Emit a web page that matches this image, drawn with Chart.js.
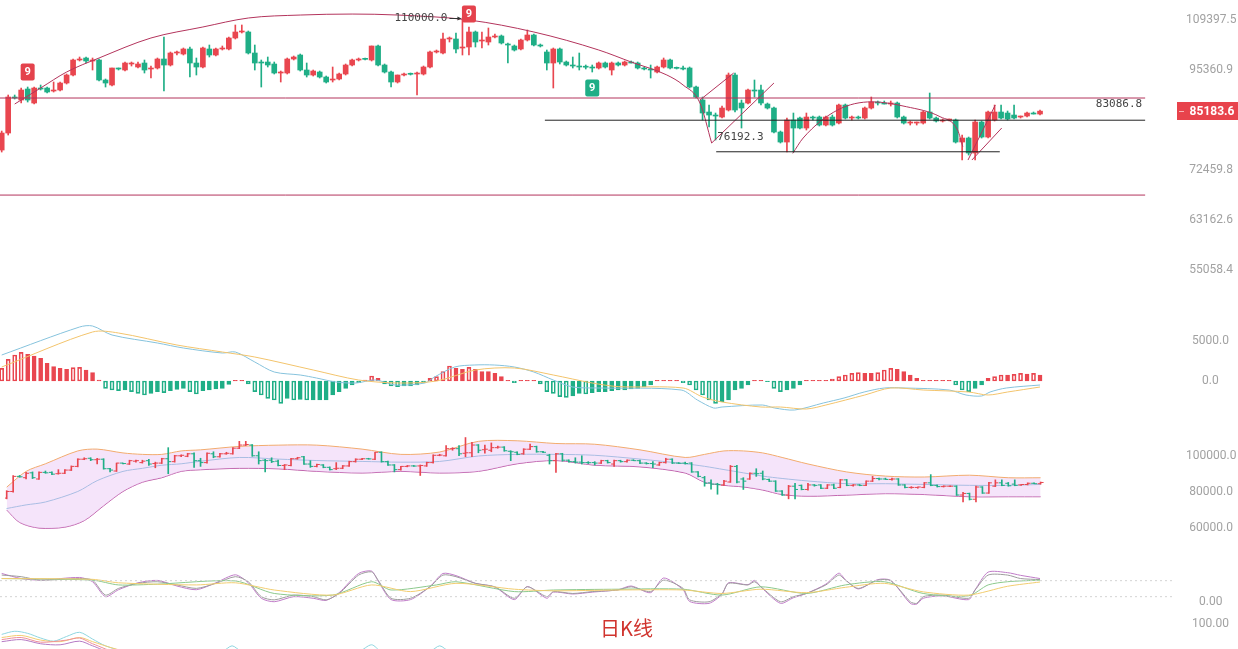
<!DOCTYPE html>
<html><head><meta charset="utf-8">
<script src="https://cdn.jsdelivr.net/npm/chart.js@4.4.1/dist/chart.umd.min.js"></script>
<style>
html,body{margin:0;padding:0;background:#fff;width:1238px;height:649px;overflow:hidden;position:relative;}
canvas{position:absolute;left:0;}
#title{position:absolute;left:600px;top:617px;font-family:"Noto Sans CJK SC";font-size:20px;line-height:22px;color:#d0342e;}
</style></head><body>
<canvas id="c1" width="1238" height="300" style="top:0px"></canvas>
<canvas id="c2" width="1238" height="120" style="top:300px"></canvas>
<canvas id="c3" width="1238" height="140" style="top:420px"></canvas>
<canvas id="c4" width="1238" height="50" style="top:560px"></canvas>
<canvas id="c5" width="1238" height="39" style="top:610px"></canvas>
<div id="title">日K线</div>
<script>
// ---------------- DATA ----------------
const candleOpen = [76557,80215,88550,87824,90517,87103,90766,90766,90021,90269,
 92021,94064,98020,98559,97751,98020,92782,91517,95890,95365,
 96949,96154,97215,95627,95890,98289,96683,99922,99648,101026,
 97215,96154,101026,99375,101026,101026,104124,105853,105853,99922,
 97483,97483,96949,94582,94582,98289,99375,95365,94064,94842,
 93549,92782,93037,94323,96683,98020,98289,98020,101861,96683,
 94842,92274,94064,94323,94323,94323,96154,100197,99922,103838,
 103838,101303,101582,105853,103269,102986,104410,104697,102422,101861,
 101026,103553,104985,102141,100197,97215,101026,97483,96683,96418,
 96154,96154,95890,97215,95365,97215,96683,97483,97215,95890,
 95627,94842,96154,98020,95890,95890,95890,91015,87824,84977,
 84279,83818,85445,94064,87103,87103,90269,90269,86864,85915,
 80436,78257,83130,83588,81324,83818,83818,81997,83818,82448,
 86626,83588,83818,83588,85915,87343,87103,86864,87103,83818,
 82448,82448,82448,84977,83588,82902,83130,83130,78257,79122,
 75929,82675,79339,83130,84977,84744,84279,83818,84048,84744,
 84511];
const candleHigh = [80657,89038,89038,90766,91015,91015,91517,91015,92274,92274,
 94323,98289,98830,98830,98559,98289,93037,95890,95890,97483,
 97483,97483,98020,96418,98559,104410,100197,100472,101303,101582,
 98559,101582,102141,101303,101861,104410,107907,107907,106144,102141,
 98020,98830,97483,95103,98559,99102,99648,97215,95365,95103,
 93806,96154,94582,96949,98289,98559,98559,101861,102141,96949,
 95103,94064,94582,94582,94842,96418,100472,100749,105563,104410,
 105563,110000,107316,106144,105853,107022,105273,104985,102704,102141,
 103838,106436,105273,102422,100749,101303,101303,97751,98830,99922,
 96683,96683,97483,97483,97483,97483,97751,97751,97483,96154,
 96683,96418,98559,98289,96154,96418,96154,91266,88550,86626,
 84744,86389,94582,94582,87824,90517,92782,91517,87103,86152,
 80657,83588,84744,83818,84744,84048,84048,84048,84279,86864,
 86864,84048,84048,86152,88550,87583,87583,87583,87343,84048,
 82902,82675,85210,89528,83818,83359,83359,83359,79776,79339,
 83130,82902,85210,86626,86626,85210,86626,84048,84977,84977,
 85445];
const candleLow = [76138,79776,88065,87103,87343,86864,90269,89528,89774,90021,
 91768,93806,97751,97215,95365,92527,91015,91266,95365,95103,
 96418,95890,94582,93292,95627,90021,96418,99375,99375,93549,
 94064,95890,98830,99102,100749,100749,103838,105563,99648,95365,
 91015,96154,94323,92274,94323,98020,95103,93549,93806,93292,
 92021,92274,92782,94064,96418,97751,98020,97751,96418,94582,
 91015,92021,93806,94064,89038,94064,95890,99922,99648,102986,
 99922,99375,99375,101582,101303,102141,104124,102422,97215,100472,
 100749,103269,101861,101582,95365,90766,96949,96418,95890,95365,
 95627,94842,95627,95890,94064,96418,96418,97215,95627,95365,
 93292,94582,95890,95627,95627,95365,90766,88307,83130,81548,
 78688,83588,85210,84977,81324,86864,88550,86626,85680,80215,
 78043,76138,76138,81101,80879,83130,81772,81772,81772,82222,
 83359,83130,83359,83359,85680,86626,86864,86389,83588,82222,
 81997,81997,82222,83359,82675,82675,82902,78043,74484,75513,
 74484,79122,79122,82902,83359,83130,83359,83588,83818,84511,
 84279];
const candleClose = [80215,88550,88307,90269,87824,90766,90517,89774,90269,92021,
 94064,98020,98289,97751,98020,92782,92021,95890,95627,97215,
 97215,96949,95365,95890,98289,96683,99922,100197,101026,97215,
 96154,101303,99375,101026,101303,104124,105853,106144,99922,97215,
 97215,96683,94582,94842,98289,98830,95365,94064,95103,93549,
 92274,93037,94323,96683,98020,98289,98200,101861,96683,94842,
 92274,94064,94323,94250,94582,96154,100197,100300,103838,103900,
 101026,101582,105853,102986,103553,104410,104697,102704,102141,100749,
 103553,104985,102141,101861,97215,101026,97483,96683,96418,96154,
 96100,95890,97215,96154,97215,96683,97483,97215,95890,95627,
 95365,96154,98020,95890,95800,95627,91015,88550,84744,84279,
 84048,85915,94064,85445,85915,90269,90021,87103,85915,80436,
 78257,83130,81324,81324,83818,83588,81997,83818,81997,86626,
 83588,83818,83588,85915,87343,87103,86864,87103,83818,82448,
 82448,82675,84977,83588,82902,83130,83130,78257,79122,75929,
 82675,79339,84977,84977,83588,83359,83588,84048,84744,84511,
 85183.6];

const mainTicks = [109397.5, 95360.9, 72459.8, 63162.6, 55058.4];

// drawn levels / trend lines  [index, price]
const levelPrice = [88307, 83086.8, 76192.3, 67654];
const levelFrom  = [-1, 83.7, 110.1, -1];
const levelTo    = [176.2, 176.2, 153.8, 176.2];
const bigArc = [[2,86864],[6,90766],[10,94842],[15,98559],[23,104124],[31,107316],[38,110000],[46,110900],[54,111200],[61,110900],[72,109398],[82,105853],[92,100749],[97,97483],[102.5,94064],[105,91517],[107.6,87103],[109.4,78043]];
const smallArc = [[121.9,75860],[123.5,79122],[128.8,85442],[134.1,87390],[139.4,86230],[144.6,83890],[147.3,80879],[148.1,77260]];
const channelA = [[107.6,87824],[112.8,94582]];
const channelB = [[109.4,78043],[119,92021]];
const channelC = [[148.9,74484],[153.1,86626]];
const channelD = [[149.5,74484],[154.1,81324]];
const nineIdx = [4, 72, 91];
const nineVal = [94842, 111200, 90766];
const nineUp  = [true, true, false];

// MACD
const macdHist = [1580,2700,3250,3580,3330,3120,2830,2200,1790,1580,
 1460,1670,1710,1375,1040,125,-920,-1125,-1200,-1125,
 -1330,-1540,-1750,-1540,-1330,-1460,-1200,-1040,-920,-1330,
 -1625,-1200,-1125,-1000,-920,-420,80,80,-375,-1330,
 -1750,-2170,-2375,-2790,-2170,-2375,-2290,-2375,-2375,-2375,
 -2375,-1750,-1330,-920,-500,-210,125,625,330,-375,
 -625,-710,-625,-625,-500,-210,330,540,1170,1875,
 1580,1460,1710,1460,1170,1170,960,540,80,-210,
 80,80,80,-375,-1330,-1540,-1960,-2040,-1875,-1540,
 -1625,-1460,-1330,-1330,-1200,-1125,-1125,-1000,-920,-750,
 -500,80,80,80,80,-210,-500,-1125,-1750,-2375,
 -2790,-2580,-2375,-1125,-920,-500,80,80,-80,-920,
 -1330,-1125,-920,-500,80,80,80,80,250,540,
 750,960,1040,960,960,1040,1375,1580,1460,1170,
 750,330,80,80,80,80,80,-500,-1125,-1330,
 -920,-500,330,540,750,750,830,960,875,960,
 750];
const macdDif = [[0,3250],[12,6750],[14,6875],[17,5750],[24,4750],[28,4125],[34,3500],[36,3625],[39,2375],[42,1125],[46,750],[48.5,375],[51.5,-125],[54.6,-250],[57.6,125],[60.6,-500],[65.2,-250],[66.7,500],[69.8,1750],[72.8,2000],[75.9,2000],[79,1750],[82,1125],[85,125],[88,-750],[92.2,-875],[104.7,-1125],[107.2,-2375],[109.7,-3375],[111,-3250],[117.2,-3000],[119.1,-3375],[122.2,-3625],[126.6,-2750],[129.8,-2125],[132.9,-1375],[136,-875],[139.2,-875],[146,-1125],[148.6,-1750],[151,-1875],[152.3,-1375],[154.8,-875],[160,-500]];
const macdDea = [[0,1750],[14,6125],[18,6000],[27,4500],[34,3625],[39,3000],[48,1375],[55,125],[61,-250],[67,0],[73,1375],[79,1625],[85,750],[91,-250],[95,-700],[105,-875],[108,-2000],[111,-2625],[117,-3250],[120,-3250],[124,-3500],[127,-3000],[133,-1750],[137,-875],[142,-1125],[149,-1375],[152,-1750],[155,-1375],[160,-750]];
const macdTicks = [5000, 0];

// BOLL
const bollUpper = [[0,82600],[3,91300],[6,95500],[11,102600],[14,103600],[18,101500],[21,100700],[24,100700],[27,102600],[30,103200],[36,105100],[42,105800],[48,105800],[55,103600],[61,100700],[67,102000],[73,107900],[79,108200],[85,106700],[91,106300],[98,103200],[105,99000],[108,100700],[111,102600],[114,102600],[117,101500],[120,99000],[124,95400],[130,91000],[136,88700],[142,88200],[149,89200],[155,87800],[160,87800]];
const bollMid = [[0,70800],[3,72800],[6,74400],[11,80200],[14,86200],[18,91300],[21,93000],[24,94700],[27,95500],[30,96900],[36,99000],[42,98100],[48,97300],[55,96800],[61,96400],[67,96800],[73,99800],[79,100700],[85,100700],[91,100200],[98,98100],[105,95500],[108,94100],[111,92300],[114,90500],[117,88700],[120,87400],[124,86000],[130,84500],[136,84500],[142,84100],[149,83600],[155,83600],[160,84100]];
const bollLower = [[0,70000],[2,63100],[5,60000],[9,60500],[12,64100],[15,72300],[18,80200],[21,85300],[24,87800],[27,91300],[30,92200],[36,93000],[42,92700],[48,91300],[55,90400],[61,91300],[67,90400],[73,91300],[79,95500],[85,97300],[91,94700],[98,93800],[105,90400],[108,85300],[111,83600],[114,82700],[117,81000],[120,78500],[124,77600],[130,78200],[136,79000],[142,78500],[149,77300],[155,77300],[160,77300]];
const bollTicks = [100000, 80000, 60000];

// KDJ
const kdjK = [[0,101],[3,95],[6,82],[12,88],[14,82],[16,26],[18,51],[21,70],[24,76],[27,64],[30,51],[33,70],[36,95],[38,76],[40,20],[42,8],[45,26],[48,20],[50,8],[52,32],[55,101],[57,113],[58,82],[60,14],[63,14],[66,57],[68,101],[70,95],[73,70],[76,57],[79,14],[81,57],[84,20],[85,39],[88,32],[91,39],[95,45],[97,57],[100,39],[102,82],[105,51],[106,8],[109,1],[111,32],[112,70],[115,64],[116,76],[117,57],[120,1],[122,20],[124,32],[127,64],[129,101],[130,82],[132,51],[135,82],[137,80],[140,1],[141,-5],[142,20],[145,26],[149,14],[150,45],[152,101],[155,101],[157,88],[160,84]];
const kdjJ = [[0,107],[3,88],[6,82],[12,92],[14,76],[16,20],[18,46],[21,72],[24,81],[27,60],[30,46],[33,72],[36,102],[38,72],[40,14],[42,1],[45,20],[48,14],[50,6],[52,35],[55,107],[57,116],[58,79],[60,9],[63,9],[66,58],[68,107],[70,99],[73,70],[76,56],[79,9],[81,58],[84,14],[85,37],[88,30],[91,37],[95,46],[97,60],[100,35],[102,90],[105,46],[106,2],[109,-5],[111,29],[112,72],[115,65],[116,81],[117,56],[120,-5],[122,16],[124,32],[127,67],[129,108],[130,84],[132,49],[135,84],[137,81],[140,-5],[141,-8],[142,14],[145,23],[149,9],[150,46],[152,112],[155,110],[157,100],[160,88]];
const kdjD = [[0,88],[14,82],[18,64],[24,67],[36,79],[42,32],[51,26],[57,76],[60,45],[67,64],[70,76],[79,39],[85,45],[95,48],[105,48],[111,26],[117,57],[124,32],[130,64],[136,76],[142,32],[149,23],[152,64],[155,76],[160,82]];
const kdjM = [[0,88],[14,85],[18,72],[30,64],[36,72],[42,45],[51,26],[57,64],[63,39],[70,70],[79,48],[85,42],[95,45],[105,45],[111,32],[117,48],[124,35],[130,55],[136,70],[142,38],[149,26],[155,59],[160,75]];
const kdjLevels = [80, 20];
const kdjTicks = [0];

// lower indicator (mostly cut off)
const lowCyan = [[0,80],[2,86],[4,82],[6,73],[8,67],[10,76],[12,84],[14,71],[16,58],[19,48],[34,48],[35.5,58],[37,48],[55,48],[57,60],[58.5,48],[66,48],[67.5,58],[69,48],[160,45]];
const lowYellow = [[0,74],[3,78],[6,69],[9,66],[12,74],[14,66],[17,54],[20,46],[160,45]];
const lowPurple = [[0,66],[3,70],[6,62],[9,60],[12,67],[14,58],[17,46],[160,45]];
const lowPink = [[0,70],[3,74],[6,65],[10,69],[12,73],[14,62],[18,46],[160,45]];
const lowTicks = [100];

// ---------------- HELPERS ----------------
const UP = '#e9464f', DOWN = '#1fae86';
const idx = candleClose.map((_, i) => i);
const candleColor = idx.map(i => candleClose[i] >= candleOpen[i] ? UP : DOWN);
const pts = arr => arr.map(p => ({x: p[0], y: p[1]}));
const X_MIN = -0.262, X_MAX = 180.8;
const AXIS_W = 63;

function xAxis() { return {type: 'linear', min: X_MIN, max: X_MAX, display: false, offset: false}; }
function yAxis(o) {
  return Object.assign({
    position: 'right', bounds: 'data',
    grid: {display: false, drawTicks: false}, border: {display: false},
    afterFit(s) { s.width = AXIS_W; s.paddingTop = 0; s.paddingBottom = 0; },
    afterBuildTicks(s) { s.ticks = o.tickVals.map(v => ({value: v})); },
    ticks: {color: '#a2a2a2', font: {family: 'Roboto', size: 12}, crossAlign: 'center', padding: o.pad, autoSkip: false,
      callback: v => Number(v).toFixed(o.dec)}
  }, o.extra);
}
function lineDS(points, color, extra) {
  return Object.assign({type: 'line', data: points, borderColor: color, borderWidth: 1, pointRadius: 0, fill: false, order: 0, tension: 0}, extra || {});
}
const common = {
  responsive: false, animation: false, events: [],
  layout: {padding: 0},
  plugins: {legend: {display: false}, tooltip: {enabled: false}}
};

// ---------------- MAIN ----------------
const mainAnno = {
  id: 'mainAnno',
  afterDraw(chart) {
    const {ctx, scales: {x, y}} = chart;
    ctx.save();
    // TD "9" markers
    nineIdx.forEach((ix, k) => {
      const px = x.getPixelForValue(ix), py = y.getPixelForValue(nineVal[k]);
      ctx.fillStyle = nineUp[k] ? '#e4424c' : '#1fae86';
      ctx.beginPath(); ctx.roundRect(px - 7, py - 8.5, 14, 17, 2); ctx.fill();
      ctx.fillStyle = '#fff'; ctx.font = 'bold 11px Roboto'; ctx.textAlign = 'center'; ctx.textBaseline = 'middle';
      ctx.fillText('9', px, py + 0.5);
    });
    // max label with arrow
    const hx = x.getPixelForValue(71), hy = y.getPixelForValue(110000);
    ctx.fillStyle = '#444'; ctx.font = '11px "DejaVu Sans Mono"'; ctx.textAlign = 'right'; ctx.textBaseline = 'middle';
    ctx.fillText('110000.0', hx - 15, hy);
    ctx.strokeStyle = '#333'; ctx.lineWidth = 1;
    ctx.beginPath(); ctx.moveTo(hx - 13, hy + 0.5); ctx.lineTo(hx - 3, hy + 0.5); ctx.stroke();
    ctx.fillStyle = '#333'; ctx.beginPath(); ctx.moveTo(hx - 1, hy + 0.5); ctx.lineTo(hx - 5, hy - 1.5); ctx.lineTo(hx - 5, hy + 2.5); ctx.closePath(); ctx.fill();
    // level labels
    ctx.fillStyle = '#444'; ctx.textAlign = 'left';
    ctx.fillText(levelPrice[2].toFixed(1), x.getPixelForValue(levelFrom[2]) + 1, y.getPixelForValue(levelPrice[2]) - 15);
    ctx.textAlign = 'right';
    ctx.fillText(levelPrice[1].toFixed(1), x.getPixelForValue(levelTo[1]) - 3, y.getPixelForValue(levelPrice[1]) - 16);
    // last price badge
    const last = candleClose[candleClose.length - 1];
    const by = Math.round(y.getPixelForValue(last));
    ctx.fillStyle = '#e8434c'; ctx.fillRect(1177, by - 9, 61, 18);
    ctx.strokeStyle = '#f6b3b6'; ctx.beginPath(); ctx.moveTo(1179, by + 0.5); ctx.lineTo(1184, by + 0.5); ctx.stroke();
    ctx.fillStyle = '#fff'; ctx.font = 'bold 12px Roboto'; ctx.textAlign = 'center'; ctx.textBaseline = 'middle';
    ctx.fillText(last.toFixed(1), 1212, by + 0.5);
    ctx.restore();
  }
};

const levelColors = ['#b3345c', '#222222', '#222222', '#b3345c'];
const levelDS = levelPrice.map((v, k) => lineDS([{x: levelFrom[k], y: v}, {x: levelTo[k], y: v}], levelColors[k]));

new Chart(document.getElementById('c1'), {
  type: 'bar',
  data: {datasets: [
    {data: idx.map(i => ({x: i, y: [candleLow[i], candleHigh[i]]})), backgroundColor: candleColor, barThickness: 1, grouped: false, order: 2},
    {data: idx.map(i => ({x: i, y: [candleOpen[i], candleClose[i]]})), backgroundColor: candleColor, barThickness: 5, minBarLength: 1, grouped: false, order: 1},
    ...levelDS,
    lineDS(pts(bigArc), '#b3345c', {cubicInterpolationMode: 'monotone'}),
    lineDS(pts(smallArc), '#b3345c', {cubicInterpolationMode: 'monotone'}),
    lineDS(pts(channelA), '#b3345c'),
    lineDS(pts(channelB), '#b3345c'),
    lineDS(pts(channelC), '#b3345c'),
    lineDS(pts(channelD), '#b3345c')
  ]},
  options: Object.assign({}, common, {
    scales: {
      x: xAxis(),
      y: yAxis({tickVals: mainTicks, pad: 11, dec: 1, extra: {type: 'logarithmic', min: 50722, max: 115572}})
    }
  }),
  plugins: [mainAnno]
});

// ---------------- MACD ----------------
const histFill = macdHist.map((h, i) => {
  const col = h >= 0 ? UP : DOWN;
  const grow = i === 0 || Math.abs(h) > Math.abs(macdHist[i - 1]);
  return grow ? 'rgba(255,255,255,0)' : col;
});
const histBorder = macdHist.map(h => h >= 0 ? UP : DOWN);
new Chart(document.getElementById('c2'), {
  type: 'bar',
  data: {datasets: [
    {data: idx.map(i => ({x: i, y: macdHist[i]})), backgroundColor: histFill, borderColor: histBorder, borderWidth: 1, borderSkipped: false, barThickness: 4, grouped: false, order: 2},
    lineDS(pts(macdDea), '#f3c46c', {tension: 0.3}),
    lineDS(pts(macdDif), '#86c3dd', {tension: 0.3})
  ]},
  options: Object.assign({}, common, {
    scales: {x: xAxis(), y: yAxis({tickVals: macdTicks, pad: 17, dec: 1, extra: {type: 'linear', min: -4875, max: 10125}})}
  })
});

// ---------------- BOLL ----------------
new Chart(document.getElementById('c3'), {
  type: 'bar',
  data: {datasets: [
    lineDS(pts(bollUpper), '#f2ab6e', {tension: 0.3, fill: {target: 2}, backgroundColor: 'rgba(236,206,246,0.55)', order: 3}),
    lineDS(pts(bollMid), '#58a9cc', {tension: 0.3, order: 3}),
    lineDS(pts(bollLower), '#b8509f', {tension: 0.3, order: 3}),
    {data: idx.map(i => ({x: i, y: [candleLow[i], candleHigh[i]]})), backgroundColor: candleColor, barThickness: 1, grouped: false, order: 1},
    {type: 'line', data: idx.map(i => ({x: i - 0.23, y: candleOpen[i]})), showLine: false, pointStyle: 'line', pointRadius: 1.5, pointBorderWidth: 1, pointBorderColor: candleColor, order: 0},
    {type: 'line', data: idx.map(i => ({x: i + 0.23, y: candleClose[i]})), showLine: false, pointStyle: 'line', pointRadius: 1.5, pointBorderWidth: 1, pointBorderColor: candleColor, order: 0}
  ]},
  options: Object.assign({}, common, {
    scales: {x: xAxis(), y: yAxis({tickVals: bollTicks, pad: 11, dec: 1, extra: {type: 'linear', min: 45130, max: 116923}})}
  })
});

// ---------------- KDJ ----------------
new Chart(document.getElementById('c4'), {
  type: 'line',
  data: {datasets: [
    ...kdjLevels.map(v => lineDS([{x: X_MIN, y: v}, {x: X_MAX, y: v}], '#d4d4d4', {borderDash: [2, 3]})),
    lineDS(pts(kdjM), '#f2cd70', {tension: 0.25}),
    lineDS(pts(kdjD), '#8cc98d', {tension: 0.25}),
    lineDS(pts(kdjK), '#9d9d9d', {tension: 0.25}),
    lineDS(pts(kdjJ), '#c07cc8', {tension: 0.25})
  ]},
  options: Object.assign({}, common, {
    scales: {x: xAxis(), y: yAxis({tickVals: kdjTicks, pad: 24, dec: 2, extra: {type: 'linear', min: -30, max: 157.5}})}
  })
});

// ---------------- LOWER ----------------
new Chart(document.getElementById('c5'), {
  type: 'line',
  data: {datasets: [
    lineDS(pts(lowPink), '#ef8f9a', {tension: 0.3}),
    lineDS(pts(lowPurple), '#b57ac4', {tension: 0.3}),
    lineDS(pts(lowYellow), '#f2cd70', {tension: 0.3}),
    lineDS(pts(lowCyan), '#8fd6e0', {tension: 0.3})
  ]},
  options: Object.assign({}, common, {
    scales: {x: xAxis(), y: yAxis({tickVals: lowTicks, pad: 17, dec: 2, extra: {type: 'linear', min: 51.9, max: 126.9}})}
  })
});
</script>
</body></html>
